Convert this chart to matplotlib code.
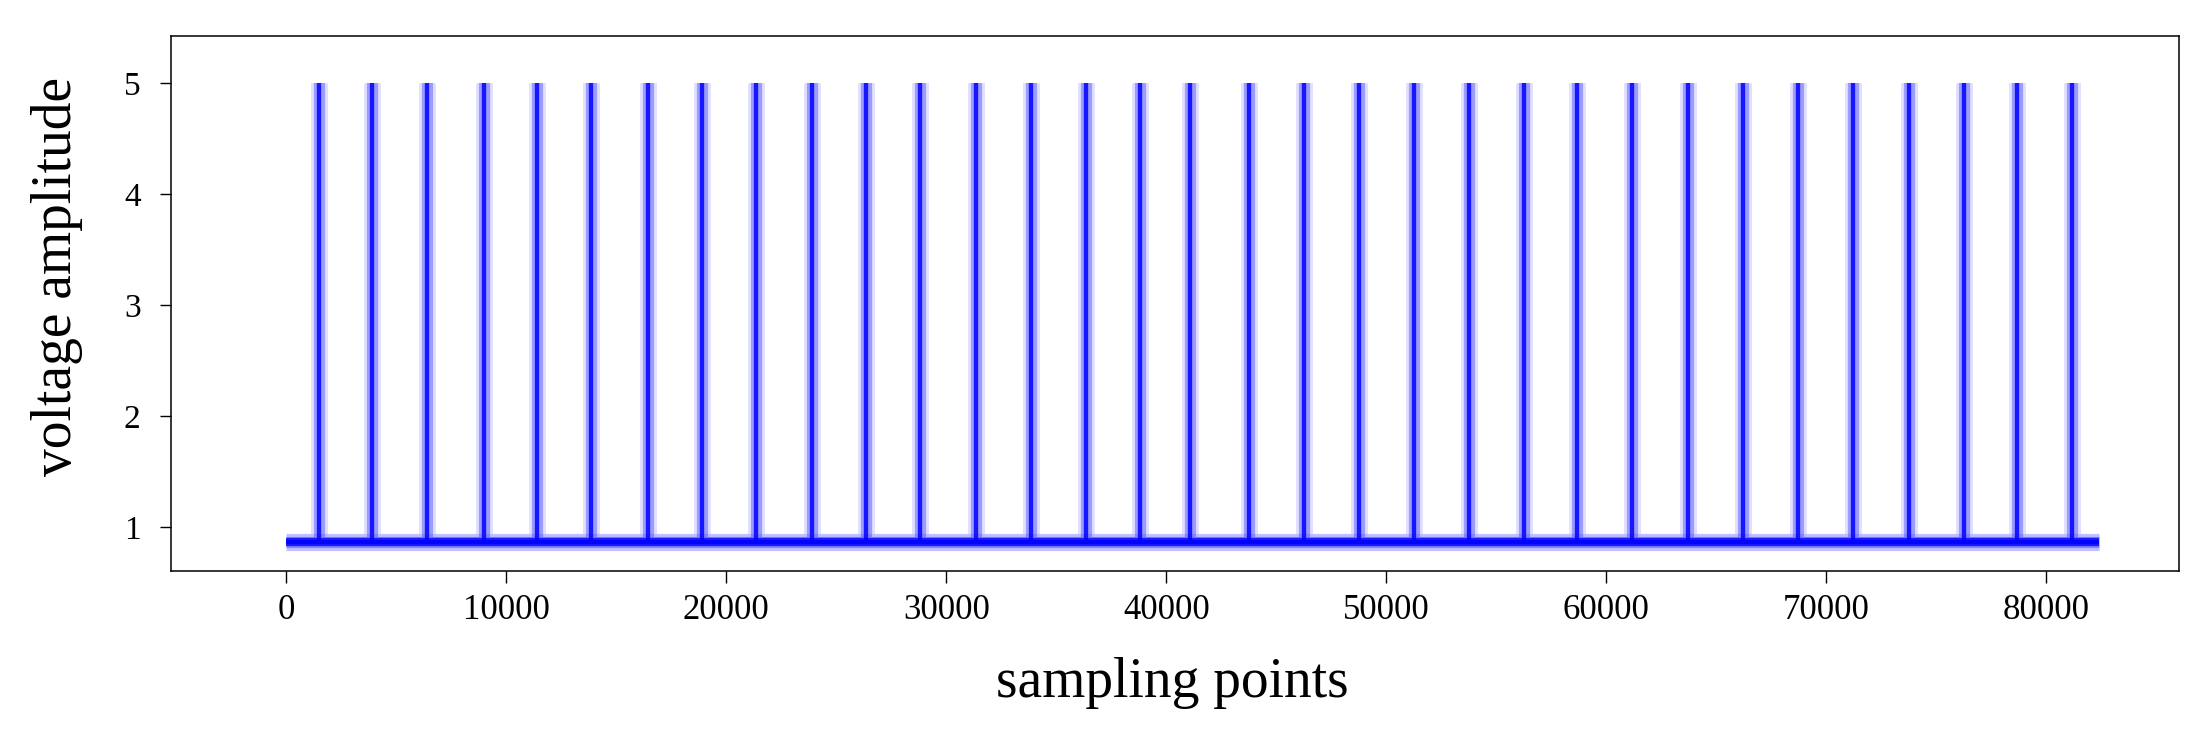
import matplotlib
matplotlib.use("Agg")
import matplotlib.pyplot as plt
import numpy as np

# ---- data ----
spike_positions = [1500, 3895, 6410, 8985, 11380, 13865, 16440, 18895, 21350,
                   23895, 26350, 28805, 31350, 33865, 36350, 38805, 41080,
                   43770, 46270, 48765, 51255, 53750, 56245, 58675, 61170,
                   63730, 66220, 68715, 71210, 73770, 76260, 78690, 81185]
baseline_level = 0.87
spike_level = 5.0
signal_start = 0
signal_end = 82400

x_ticks = [0, 10000, 20000, 30000, 40000, 50000, 60000, 70000, 80000]
y_ticks = [1, 2, 3, 4, 5]

# ---- build the pulse-train polyline ----
xs = [signal_start]
ys = [baseline_level]
for p in spike_positions:
    xs += [p, p, p]
    ys += [baseline_level, spike_level, baseline_level]
xs.append(signal_end)
ys.append(baseline_level)

W, H, DPI = 2206, 742, 100
fig = plt.figure(figsize=(W / DPI, H / DPI), dpi=DPI)
ax = fig.add_axes([171.3 / W, 1 - 571 / H, (2178.7 - 171.3) / W, (571 - 36) / H])

serif = ["Liberation Serif", "DejaVu Serif"]

blue = "#0000ff"
# soft halo layers + core, mimicking the blurred look
for lw, a in [(12.0, 0.12), (8.0, 0.3), (3.0, 0.85)]:
    ax.plot(xs, ys, color=blue, lw=lw, alpha=a, solid_joinstyle="bevel",
            solid_capstyle="butt")
# baseline appears a bit thicker
for lw, a in [(12.5, 0.15), (6.0, 0.8)]:
    ax.plot([signal_start, signal_end], [baseline_level, baseline_level],
            color=blue, lw=lw, alpha=a, solid_capstyle="butt")

ax.set_xlim(-5227, 86018)
ax.set_ylim(0.606, 5.426)
ax.set_xticks(x_ticks)
ax.set_xticklabels([str(v) for v in x_ticks])
ax.set_yticks(y_ticks)
ax.set_yticklabels([str(v) for v in y_ticks])

for s in ax.spines.values():
    s.set_linewidth(1.1)
    s.set_color("black")

ax.tick_params(axis="x", length=8.5, width=1.0, pad=8, labelsize=25)
ax.tick_params(axis="y", length=8, width=1.0, pad=14, labelsize=24)
for lab in ax.get_xticklabels() + ax.get_yticklabels():
    lab.set_family(serif)

fig.text(1172 / W, 1 - 697 / H, "sampling points", ha="center", va="baseline",
         fontsize=40, family=serif)
fig.text(57 / W, 1 - 277 / H, "voltage amplitude", ha="center", va="center",
         rotation=90, fontsize=40, family=serif)

fig.savefig("out.png", dpi=DPI, facecolor="white")
